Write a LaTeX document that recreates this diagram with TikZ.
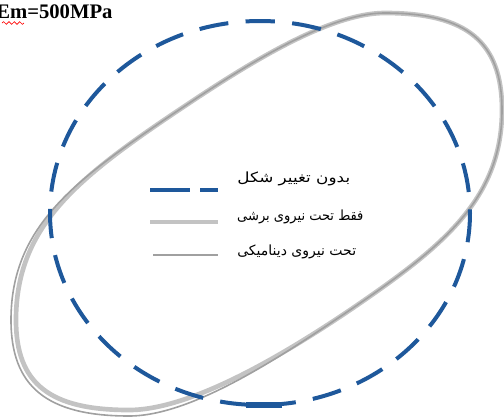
\documentclass[tikz,border=0pt]{standalone}
\usepackage{fontspec}
\setmainfont{Liberation Serif}
\newfontfamily\arabicfont[Script=Arabic]{DejaVu Sans}
\TeXXeTstate=1
\usetikzlibrary{decorations.pathmorphing}
\definecolor{dblue}{RGB}{30,88,155}
\definecolor{lgray}{RGB}{195,195,195}
\definecolor{mgray}{RGB}{160,160,160}
\begin{document}
\begin{tikzpicture}[x=0.75pt,y=-0.75pt,
  circ/.style={draw=dblue, line width=3pt, dash pattern=on 22pt off 13pt},
  shear/.style={draw=lgray, line width=3.5pt},
  dyn/.style={draw=mgray, line width=1.2pt},
  lab/.style={font=\arabicfont\fontsize{10.5}{12}\selectfont, anchor=west, inner sep=0pt}]
\useasboundingbox (0,0) rectangle (504,419);
% deformed shape: shear only (thick)
\draw[shear] (385,13) .. controls (467,13) and (502,42) .. (502,110)
  .. controls (502,200) and (441,248) .. (350,310)
  .. controls (283.6,354.8) and (191,410) .. (129,410)
  .. controls (50,410) and (16,384) .. (16,320)
  .. controls (16,230) and (73,182) .. (164,120)
  .. controls (230.4,75.2) and (323,13) .. (385,13) -- cycle;
% deformed shape: dynamic (thin)
\draw[dyn] (385,13) .. controls (467,13) and (502,42) .. (502,110)
  .. controls (502,200) and (441,248) .. (350,310)
  .. controls (283.6,354.8) and (193,416) .. (129,416)
  .. controls (46,416) and (11,386) .. (11,320)
  .. controls (11,228) and (73,182) .. (164,120)
  .. controls (230.4,75.2) and (323,13) .. (385,13) -- cycle;
% undeformed
\draw[circ] (260,213) ellipse [x radius=210, y radius=192];
\draw[dblue, line width=4.5pt] (246,404.5) -- (282,404.5);
% title
\node[anchor=west, font=\bfseries\fontsize{15.5}{16}\selectfont, inner sep=0pt] (title) at (-4,12) {Em=500MPa};
\draw[red, line width=0.5pt, decorate, decoration={snake, amplitude=1pt, segment length=4pt}] (2,23) -- (24,23);
% legend
\coordinate (a1) at (150,190); \coordinate (a2) at (190,190);
\coordinate (a3) at (200,190); \coordinate (a4) at (218,190);
\draw[dblue, line width=3pt] (a1) -- (a2);
\draw[dblue, line width=3pt] (a3) -- (a4);
\coordinate (b1) at (150,222); \coordinate (b2) at (218,222);
\draw[shear] (b1) -- (b2);
\coordinate (c1) at (153,255); \coordinate (c2) at (218,255);
\draw[dyn] (c1) -- (c2);
\node[lab, xscale=1.2] (t1) at (237,179) {\beginR بدون تغییر شکل\endR};
\node[lab, xscale=0.93] (t2) at (237,217) {\beginR فقط تحت نیروی برشی\endR};
\node[lab, xscale=1.0] (t3) at (237,252) {\beginR تحت نیروی دینامیکی\endR};
\end{tikzpicture}
\end{document}
